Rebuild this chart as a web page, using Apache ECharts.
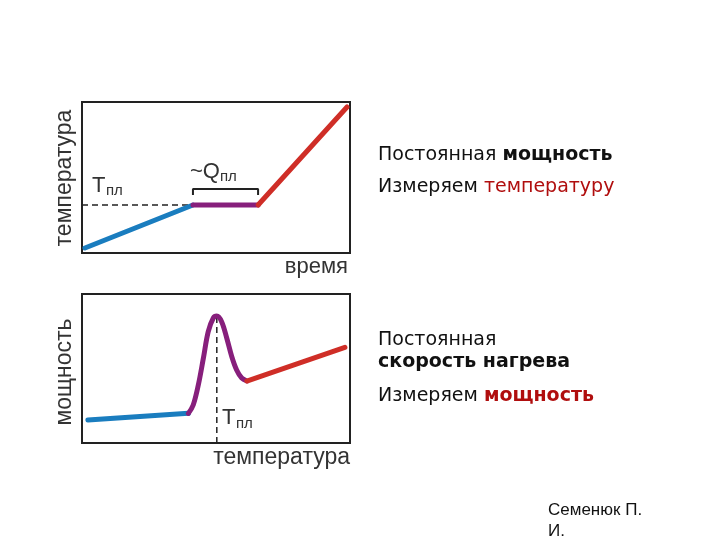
<!DOCTYPE html>
<html><head><meta charset="utf-8">
<script src="https://cdn.jsdelivr.net/npm/echarts@6/dist/echarts.min.js"></script>
<style>html,body{margin:0;padding:0;background:#fff}#c{width:720px;height:540px}</style>
</head><body><div id="c"></div>
<script>
// Top chart: temperature vs time (constant power)
const topBlue = [[1.1, 3.3], [41.4, 31.8]];
const topPurple = [[41.4, 31.8], [65.7, 31.8]];
const topRed = [[65.7, 31.8], [98.9, 96.7]];
const topDashed = [[0, 31.8], [41.4, 31.8]];
const topBracket = [[41.4, 38.4], [41.4, 42.4], [65.7, 42.4], [65.7, 38.4]];
// Bottom chart: power vs temperature (constant heating rate)
const botBlue = [[2.2, 15.4], [39.7, 19.9]];
const botPurple = [[39.7, 19.9], [41.5, 25.5], [43.4, 38.9], [45.3, 57.0], [47.1, 74.7], [49.0, 83.9], [50.3, 85.2], [52.1, 81.4], [54.0, 70.5], [55.9, 57.9], [57.7, 49.0], [59.6, 43.6], [61.5, 41.6]];
const botRed = [[61.5, 41.6], [98.1, 64.2]];
const botDashed = [[50.3, 0], [50.3, 85.2]];

const BLUE = '#1a7dbf', PURPLE = '#871f7c', RED = '#cf2e27';
const chart = echarts.init(document.getElementById('c'));
function ax(i){return {type:'value',min:0,max:100,gridIndex:i,show:false};}
function ln(data, color, g, opts){
  return Object.assign({type:'line',data:data,xAxisIndex:g,yAxisIndex:g,symbol:'none',silent:true,
    lineStyle:{color:color,width:5,cap:'round'}}, opts||{});
}
const axisFont = '"Liberation Sans", Arial, sans-serif';
const textFont = '"DejaVu Sans", Verdana, sans-serif';
chart.setOption({
  animation:false,
  grid:[
    {left:82,top:102,width:268,height:151,show:true,borderColor:'#222',borderWidth:2,backgroundColor:'transparent'},
    {left:82,top:294,width:268,height:149,show:true,borderColor:'#222',borderWidth:2,backgroundColor:'transparent'}
  ],
  xAxis:[ax(0),ax(1)],
  yAxis:[ax(0),ax(1)],
  series:[
    ln(topDashed,'#222',0,{lineStyle:{color:'#222',width:1.5,type:[6,4]}}),
    ln(topBracket,'#222',0,{lineStyle:{color:'#222',width:2}}),
    ln(topBlue,BLUE,0),
    ln(topPurple,PURPLE,0),
    ln(topRed,RED,0),
    ln(botDashed,'#222',1,{lineStyle:{color:'#222',width:1.5,type:[6,4]}}),
    ln(botBlue,BLUE,1),
    ln(botPurple,PURPLE,1,{smooth:0.35}),
    ln(botRed,RED,1)
  ],
  graphic:[
    {type:'text',x:65,y:178,rotation:Math.PI/2,style:{text:'температура',font:'23px '+axisFont,fill:'#333',align:'center',verticalAlign:'middle'}},
    {type:'text',x:348,y:267,style:{text:'время',font:'22px '+axisFont,fill:'#333',align:'right',verticalAlign:'middle'}},
    {type:'text',x:92,y:186,style:{text:'T',font:'22px '+axisFont,fill:'#333',align:'left',verticalAlign:'middle'}},
    {type:'text',x:106,y:191,style:{text:'пл',font:'15px '+axisFont,fill:'#333',align:'left',verticalAlign:'middle'}},
    {type:'text',x:190,y:172,style:{text:'~Q',font:'22px '+axisFont,fill:'#333',align:'left',verticalAlign:'middle'}},
    {type:'text',x:220,y:177,style:{text:'пл',font:'15px '+axisFont,fill:'#333',align:'left',verticalAlign:'middle'}},
    {type:'text',x:65,y:372,rotation:Math.PI/2,style:{text:'мощность',font:'23px '+axisFont,fill:'#333',align:'center',verticalAlign:'middle'}},
    {type:'text',x:350,y:458,style:{text:'температура',font:'23px '+axisFont,fill:'#333',align:'right',verticalAlign:'middle'}},
    {type:'text',x:222,y:418,style:{text:'T',font:'22px '+axisFont,fill:'#333',align:'left',verticalAlign:'middle'}},
    {type:'text',x:236,y:424,style:{text:'пл',font:'15px '+axisFont,fill:'#333',align:'left',verticalAlign:'middle'}},
    {type:'text',x:378,y:155,style:{rich:{n:{font:'19px '+textFont,fill:'#111'},b:{font:'bold 19px '+textFont,fill:'#111'}},text:'{n|Постоянная }{b|мощность}',verticalAlign:'middle'}},
    {type:'text',x:378,y:187,style:{rich:{n:{font:'19px '+textFont,fill:'#111'},r:{font:'19px '+textFont,fill:'#b00e0e'}},text:'{n|Измеряем }{r|температуру}',verticalAlign:'middle'}},
    {type:'text',x:378,y:340,style:{text:'Постоянная',font:'19px '+textFont,fill:'#111',verticalAlign:'middle'}},
    {type:'text',x:378,y:362,style:{text:'скорость нагрева',font:'bold 19px '+textFont,fill:'#111',verticalAlign:'middle'}},
    {type:'text',x:378,y:396,style:{rich:{n:{font:'19px '+textFont,fill:'#111'},r:{font:'bold 19px '+textFont,fill:'#b00e0e'}},text:'{n|Измеряем }{r|мощность}',verticalAlign:'middle'}},
    {type:'text',x:548,y:510,style:{text:'Семенюк П.',font:'17px '+axisFont,fill:'#111',verticalAlign:'middle'}},
    {type:'text',x:548,y:531,style:{text:'И.',font:'17px '+axisFont,fill:'#111',verticalAlign:'middle'}}
  ]
});
</script></body></html>
